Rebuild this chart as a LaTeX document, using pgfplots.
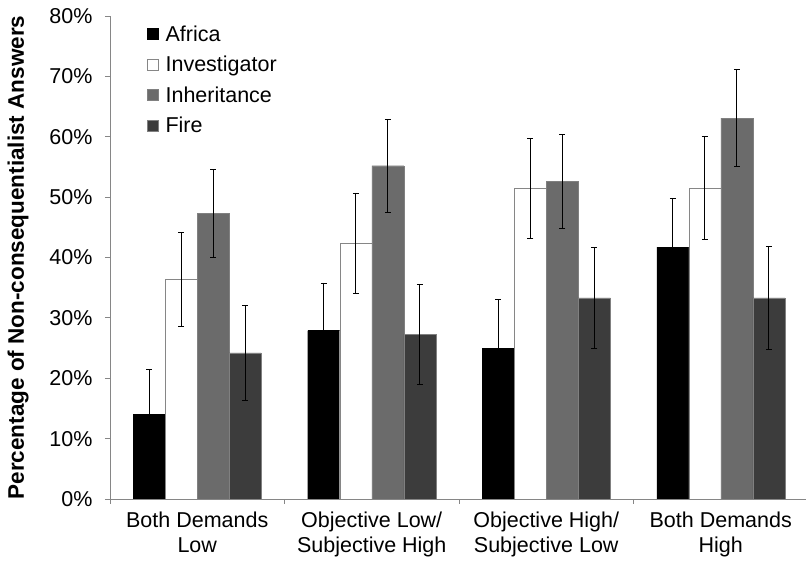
\documentclass[border=0pt]{standalone}
\usepackage{fontspec}
\setmainfont{Liberation Sans}
\usepackage{pgfplots}
\pgfplotsset{compat=1.18}
\definecolor{axisgray}{HTML}{868686}
\definecolor{inherit}{HTML}{6B6B6B}
\definecolor{fire}{HTML}{3C3C3C}
\begin{document}
\begin{tikzpicture}[font=\fontsize{21.5}{25}\selectfont]
\begin{axis}[
    scale only axis,
    width=698pt, height=483pt,
    xmin=-0.5, xmax=3.5,
    ymin=0, ymax=80,
    ybar=0pt, bar width=32pt,
    axis x line*=bottom, axis y line*=left,
    axis line style={axisgray, line width=0.8pt},
    tick style={axisgray, line width=0.8pt},
    major tick length=5pt,
    tick align=outside,
    /pgf/number format/assume math mode=true,
    ytick={0,10,...,80},
    yticklabel={\pgfmathprintnumber{\tick}\%},
    yticklabel style={xshift=-9pt},
    xtick={-0.5,0.5,1.5,2.5,3.5},
    xticklabels={},
    extra x ticks={0,1,2,3},
    extra x tick labels={Both Demands\\Low, Objective Low/\\Subjective High, Objective High/\\Subjective Low, Both Demands\\High},
    extra x tick style={major tick length=0pt, xticklabel style={align=center, yshift=-9pt}},
    ylabel={\bfseries Percentage of Non-consequentialist Answers},
    ylabel style={at={(axis description cs:-0.1318,0.5)}, anchor=center, font=\fontsize{22.5}{25}\selectfont},
    legend style={draw=none, fill=none, at={(axis description cs:0.053,0.985)}, anchor=north west,
                  inner sep=0pt, row sep=9.5pt, font=\fontsize{21.5}{25}\selectfont,
                  /tikz/every odd column/.append style={column sep=5pt}},
    legend cell align=left,
    legend image code/.code={\draw[#1] (0pt,-5.5pt) rectangle (11pt,5.5pt);},
    error bars/y dir=both, error bars/y explicit,
    error bars/error bar style={line width=0.6pt, black},
    error bars/error mark options={rotate=90, mark size=3pt, line width=0.6pt, black},
]
\addplot[fill=black, draw=black] coordinates {
    (0,14.0) +- (0,7.5)
    (1,27.9) +- (0,7.9)
    (2,25.0) +- (0,8.0)
    (3,41.7) +- (0,8.1)
};
\addplot[fill=white, draw=axisgray] coordinates {
    (0,36.4) +- (0,7.8)
    (1,42.4) +- (0,8.3)
    (2,51.5) +- (0,8.3)
    (3,51.5) +- (0,8.5)
};
\addplot[fill=inherit, draw=gray] coordinates {
    (0,47.3) +- (0,7.3)
    (1,55.2) +- (0,7.7)
    (2,52.6) +- (0,7.8)
    (3,63.1) +- (0,8.0)
};
\addplot[fill=fire, draw=gray] coordinates {
    (0,24.2) +- (0,7.8)
    (1,27.3) +- (0,8.3)
    (2,33.3) +- (0,8.4)
    (3,33.3) +- (0,8.5)
};
\legend{Africa, Investigator, Inheritance, Fire}
\end{axis}
\pgfresetboundingbox
\path[use as bounding box] (-110pt,-62pt) rectangle (696pt,499pt);
\end{tikzpicture}
\end{document}
